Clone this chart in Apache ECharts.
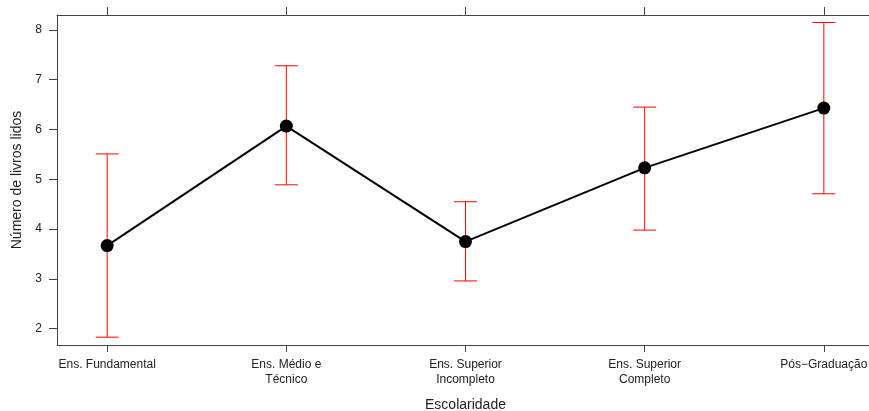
<!DOCTYPE html>
<html>
<head>
<meta charset="utf-8">
<script src="https://cdn.jsdelivr.net/npm/echarts@6/dist/echarts.min.js"></script>
<style>html,body{margin:0;padding:0;background:#fff;}#c{width:869px;height:411px;}</style>
</head>
<body>
<div id="c"></div>
<script>
const categories = ['Ens. Fundamental', 'Ens. Médio e\nTécnico', 'Ens. Superior\nIncompleto', 'Ens. Superior\nCompleto', 'Pós\u2212Graduação'];
const means = [3.67, 6.07, 3.75, 5.23, 6.43];
const lower = [1.83, 4.89, 2.96, 3.98, 4.71];
const upper = [5.51, 7.28, 4.55, 6.45, 8.15];
const yTicks = [2, 3, 4, 5, 6, 7, 8];
const xTicks = [1, 2, 3, 4, 5];

const chart = echarts.init(document.getElementById('c'), null, {renderer: 'canvas'});
const font = 'Liberation Sans, Arial, Helvetica, sans-serif';
const axisCol = '#444';
const textCol = '#222';

const lineData = means.map((m, i) => [xTicks[i], m]);
const errData = means.map((m, i) => [xTicks[i], lower[i], upper[i]]);

chart.setOption({
  animation: false,
  backgroundColor: '#fff',
  grid: {left: 57, top: 15, width: 817, height: 330, containLabel: false, outerBoundsMode: 'none'},
  xAxis: [{
    type: 'value', min: 0.72, max: 5.28, position: 'bottom',
    name: 'Escolaridade', nameLocation: 'middle', nameGap: 53,
    nameTextStyle: {fontFamily: font, fontSize: 14, color: textCol},
    axisLine: {show: true, lineStyle: {color: axisCol, width: 1}},
    axisTick: {show: true, length: 7, customValues: xTicks, lineStyle: {color: axisCol}},
    axisLabel: {show: true, customValues: xTicks, margin: 12, fontFamily: font, fontSize: 12, color: textCol, lineHeight: 15,
      formatter: v => categories[Math.round(v) - 1]},
    splitLine: {show: false}
  }, {
    type: 'value', min: 0.72, max: 5.28, position: 'top',
    axisLine: {show: true, lineStyle: {color: axisCol, width: 1}},
    axisTick: {show: true, length: 8, customValues: xTicks, lineStyle: {color: axisCol}},
    axisLabel: {show: false},
    splitLine: {show: false}
  }],
  yAxis: [{
    type: 'value', min: 1.673, max: 8.30, position: 'left',
    name: 'Número de livros lidos', nameLocation: 'middle', nameGap: 33, nameRotate: 90,
    nameTextStyle: {fontFamily: font, fontSize: 14, color: textCol},
    axisLine: {show: true, lineStyle: {color: axisCol, width: 1}},
    axisTick: {show: true, length: 8, customValues: yTicks, lineStyle: {color: axisCol}},
    axisLabel: {show: true, customValues: yTicks, margin: 15, fontFamily: font, fontSize: 12, color: textCol},
    splitLine: {show: false}
  }],
  series: [{
    type: 'custom',
    xAxisIndex: 0, yAxisIndex: 0,
    z: 1,
    data: errData,
    renderItem: function (params, api) {
      const x = api.value(0), lo = api.value(1), hi = api.value(2);
      const t = api.coord([x, hi]);
      const b = api.coord([x, lo]);
      const hw = 11.5;
      const st = {stroke: '#ff0000', lineWidth: 1};
      return {type: 'group', children: [
        {type: 'line', shape: {x1: t[0], y1: t[1], x2: b[0], y2: b[1]}, style: st},
        {type: 'line', shape: {x1: t[0] - hw, y1: t[1], x2: t[0] + hw, y2: t[1]}, style: st},
        {type: 'line', shape: {x1: b[0] - hw, y1: b[1], x2: b[0] + hw, y2: b[1]}, style: st}
      ]};
    }
  }, {
    type: 'line',
    xAxisIndex: 0, yAxisIndex: 0,
    z: 3,
    data: lineData,
    symbol: 'circle', symbolSize: 13,
    itemStyle: {color: '#000'},
    lineStyle: {color: '#000', width: 2},
    silent: true
  }]
});
</script>
</body>
</html>
